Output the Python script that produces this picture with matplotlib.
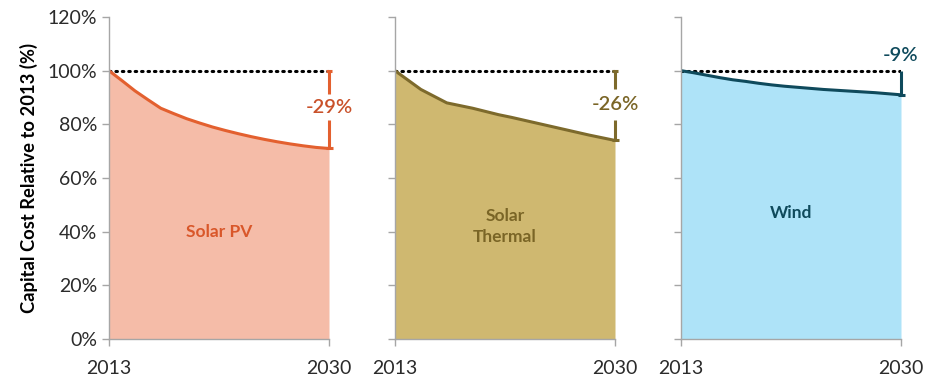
import numpy as np
import matplotlib
matplotlib.use("Agg")
import matplotlib.pyplot as plt

plt.rcParams['font.family'] = ['Lato', 'DejaVu Sans']

years = np.arange(2013, 2031)

solar_pv = [100, 96.3, 92.5, 89.2, 86.0, 84.0, 82.1, 80.5, 79.0,
            77.7, 76.5, 75.4, 74.4, 73.5, 72.7, 72.0, 71.4, 71.0]
solar_thermal = [100, 96.5, 93.0, 90.5, 88.0, 87.0, 86.0, 84.8, 83.6,
                 82.6, 81.5, 80.4, 79.3, 78.2, 77.1, 76.0, 75.0, 74.0]
wind = [100, 99.2, 98.3, 97.4, 96.6, 96.0, 95.3, 94.7, 94.2,
        93.8, 93.4, 93.0, 92.7, 92.4, 92.1, 91.8, 91.4, 91.0]

names = ["Solar PV", "Solar\nThermal", "Wind"]
series = [solar_pv, solar_thermal, wind]
changes = ["-29%", "-26%", "-9%"]
y_ticks = [0, 20, 40, 60, 80, 100, 120]

fill_colors = ["#F5BCA8", "#CFB870", "#AEE3F8"]
line_colors = ["#E3602F", "#7D6A2C", "#0F4A5C"]
text_colors = ["#D9572A", "#7A6526", "#0F4A5C"]
change_colors = ["#C9512A", "#7A6526", "#0F4A5C"]

# label placement per panel: name position (year, %), change label y, gap around it
name_pos = [(2021.5, 40), (2021.5, 42), (2021.5, 47)]
change_y = [86.4, 87.5, 105.8]
gap = [4.8, 5.8, None]

fig = plt.figure(figsize=(9.25, 3.79), dpi=100)
lefts = [109 / 925, 395 / 925, 681 / 925]
width = 220 / 925
bottom = 1 - 339 / 379
height = (339 - 17) / 379

for i, vals in enumerate(series):
    ax = fig.add_axes([lefts[i], bottom, width, height])
    ax.fill_between(years, 0, vals, color=fill_colors[i], lw=0)
    ax.plot(years, vals, color=line_colors[i], lw=2.2, solid_capstyle='butt')
    ax.plot([2013, 2030], [100, 100], color='black', lw=2.2,
            linestyle=(0, (0.5, 1.6)), dash_capstyle='round', zorder=1)

    # bracket showing the drop by 2030
    end = vals[-1]
    c = line_colors[i]
    if gap[i] is None:
        ax.vlines(2030, end, 100, color=c, lw=2.2, clip_on=False)
    else:
        ax.vlines(2030, change_y[i] + gap[i], 100, color=c, lw=2.2, clip_on=False)
        ax.vlines(2030, end, change_y[i] - gap[i], color=c, lw=2.2, clip_on=False)
        ax.hlines(100, 2029.75, 2030.25, color=c, lw=2.2, clip_on=False)
    ax.hlines(end, 2029.75, 2030.3, color=c, lw=2.2, clip_on=False)
    ax.text(2030, change_y[i], changes[i], color=change_colors[i], fontsize=14.5,
            fontweight='semibold', ha='center', va='center', clip_on=False)

    ax.text(*name_pos[i], names[i], color=text_colors[i], fontsize=12.5,
            fontweight='bold', ha='center', va='center', linespacing=1.35)

    ax.set_xlim(2013, 2030)
    ax.set_ylim(0, 120)
    ax.set_xticks([2013, 2030])
    ax.set_yticks(y_ticks)
    for side in ['top', 'right']:
        ax.spines[side].set_visible(False)
    for side in ['left', 'bottom']:
        ax.spines[side].set_color('#A6A6A6')
        ax.spines[side].set_linewidth(1.0)
    ax.tick_params(axis='both', colors='#A6A6A6', length=5, width=1.0,
                   labelcolor='#2B2B2B', labelsize=14)
    ax.tick_params(axis='x', pad=10)
    if i == 0:
        ax.set_yticklabels([f"{t}%" for t in y_ticks])
        ax.set_ylabel("Capital Cost Relative to 2013 (%)", fontsize=13.2,
                      fontweight='bold', color='black', labelpad=7)
    else:
        ax.set_yticklabels([])

fig.savefig("out.png", dpi=100)
